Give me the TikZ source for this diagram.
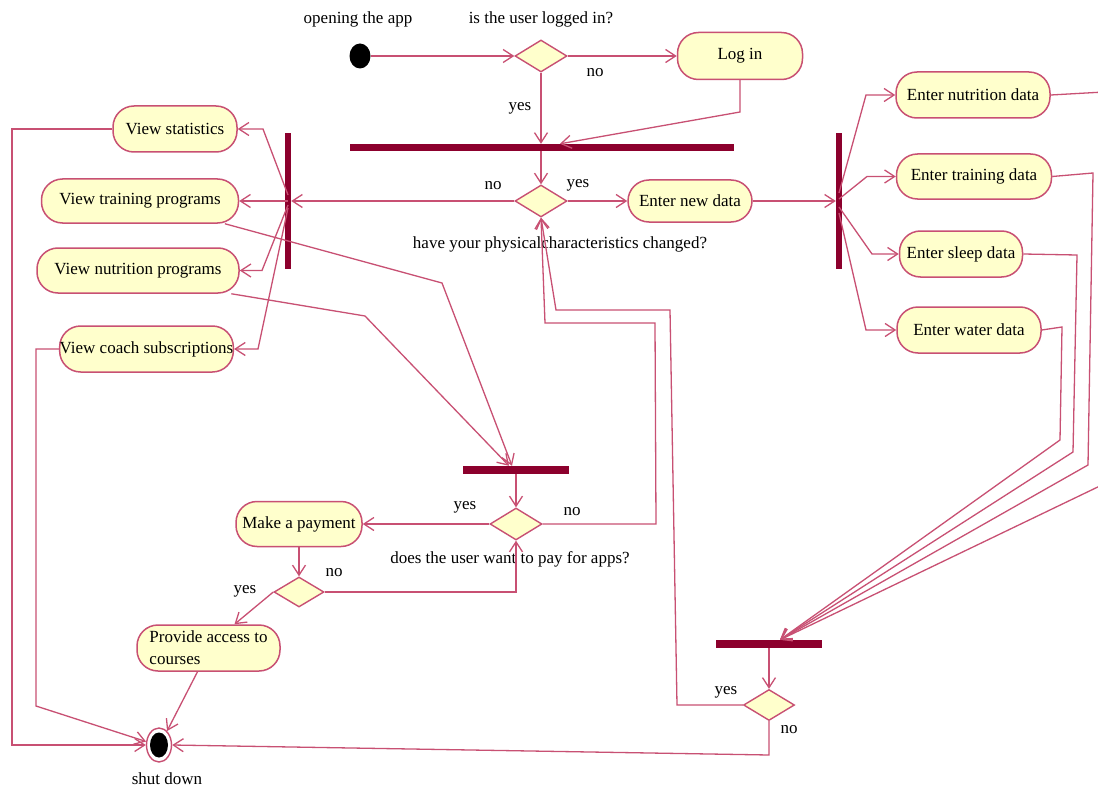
\documentclass[tikz,border=0pt]{standalone}
\usepackage{fontspec}
\setmainfont{Liberation Serif}
\usetikzlibrary{shapes.geometric,arrows.meta,calc}
\definecolor{flowc}{RGB}{200,80,115}
\definecolor{barc}{RGB}{140,0,45}
\definecolor{actfill}{RGB}{255,255,204}

\begin{document}
\begin{tikzpicture}[x=1pt,y=-1pt,
  every node/.style={font=\fontsize{17}{22}\selectfont},
  act/.style={draw=flowc,line width=1.5pt,fill=actfill,rounded corners=21pt,inner sep=0pt,minimum height=46pt},
  dec/.style={diamond,draw=flowc,line width=1.4pt,fill=actfill,inner sep=0pt,minimum width=52pt,minimum height=32pt},
  hbar/.style={fill=barc,inner sep=0pt,minimum height=7pt},
  vbar/.style={fill=barc,inner sep=0pt,minimum width=6pt,minimum height=135pt},
  flow/.style={draw=flowc,line width=1.3pt,-{Straight Barb[length=10pt,width=13pt]}},
  lbl/.style={inner sep=0pt}
]
\useasboundingbox (0,0) rectangle (1098,789);
\fill[white] (0,0) rectangle (1098,789);
\clip (0,0) rectangle (1098,789);

% start and login check
\node[fill=black,ellipse,minimum width=21pt,minimum height=25pt,inner sep=0pt] (start) at (360,56) {};
\node[lbl] at (358,19) {opening the app};
\node[dec] (d1) at (541,56) {};
\node[lbl] at (541,19) {is the user logged in?};
\node[act,minimum width=125pt,minimum height=47pt] (login) at (740,56) {Log in};
\node[hbar,minimum width=384pt] (bar1) at (542,147.5) {};

% physical characteristics check
\node[dec] (d2) at (541,201) {};
\node[act,minimum width=124pt,minimum height=42pt] (newdata) at (690,201) {Enter new data};
\node[lbl] at (560,244) {have your physicalcharacteristics changed?};
\node[vbar] (bar2) at (288,201) {};
\node[vbar] (bar3) at (839,201) {};

% viewing activities
\node[act,minimum width=124pt] (stats) at (175,129) {View statistics};
\node[act,minimum width=197pt,minimum height=44pt] (trainp) at (140,201) {View training programs};
\node[act,minimum width=202pt,minimum height=45pt] (nutrip) at (138,270.5) {View nutrition programs};
\node[act,minimum width=173pt] (coach) at (146.5,349) {View coach subscriptions};

% data entry activities
\node[act,minimum width=154pt] (ennut) at (973,95) {Enter nutrition data};
\node[act,minimum width=155pt,minimum height=45pt] (entrain) at (974,176.5) {Enter training data};
\node[act,minimum width=123pt] (ensleep) at (961,254) {Enter sleep data};
\node[act,minimum width=144pt] (enwater) at (969,330) {Enter water data};

% payment part
\node[hbar,minimum width=106pt,minimum height=8pt] (bar4) at (516,470) {};
\node[dec] (d3) at (516,524) {};
\node[lbl] at (510,559) {does the user want to pay for apps?};
\node[act,minimum width=126pt,minimum height=45pt] (pay) at (299,524) {Make a payment};
\node[dec,minimum width=50pt,minimum height=30pt] (d5) at (299,592) {};
\node[act,minimum width=143pt,minimum height=46pt,align=left] (access) at (208.5,648) {Provide access to\\courses};

% end node
\node[ellipse,draw=flowc,line width=1.4pt,fill=white,minimum width=25pt,minimum height=34pt,inner sep=0pt] (stop) at (159,745) {};
\node[ellipse,fill=black,minimum width=18pt,minimum height=25pt,inner sep=0pt] (stopdot) at (stop) {};
\node[lbl] at (167,779) {shut down};

% join after data entry
\node[hbar,minimum width=106pt,minimum height=8pt] (bar5) at (769,644) {};
\node[dec,minimum width=51pt,minimum height=31pt] (d4) at (769,705) {};

% guard labels
\node[lbl] at (520,108) {yes};
\node[lbl] at (595,73) {no};
\node[lbl] at (493,186) {no};
\node[lbl] at (578,185) {yes};
\node[lbl] at (465,507) {yes};
\node[lbl] at (572,512) {no};
\node[lbl] at (334,573) {no};
\node[lbl] at (245,591) {yes};
\node[lbl] at (726,692) {yes};
\node[lbl] at (789,730) {no};

% connectors: top
\draw[flow] (start.east) -- (d1.west);
\draw[flow] (d1.east) -- (login.west);
\draw[flow] (d1.south) -- (d1.south |- bar1.north);
\draw[flow] (login.south) -- (740,112) -- ($(bar1.north)+(18,0)$);
\draw[flow] (bar1.south -| d2) -- (d2.north);
\draw[flow] (d2.east) -- (newdata.west);
\draw[flow] (newdata.east) -- (newdata.east -| bar3.west);
\draw[flow] (d2.west) -- (d2.west -| bar2.east);

% fork to viewing activities
\draw[flow] ($(bar2.center)+(0,-6)$) -- (263,129) -- (stats.east);
\draw[flow] (bar2.center) -- (bar2.center -| trainp.east);
\draw[flow] ($(bar2.center)+(0,4)$) -- (262,270.5) -- (nutrip.east);
\draw[flow] ($(bar2.center)+(0,7)$) -- (258,349) -- (coach.east);

% fork to data entry
\draw[flow] ($(bar3.center)+(0,-8)$) -- (866,95) -- (ennut.west);
\draw[flow] ($(bar3.center)+(0,-2)$) -- (867,176.5) -- (entrain.west);
\draw[flow] ($(bar3.center)+(0,6)$) -- (872,254) -- (ensleep.west);
\draw[flow] ($(bar3.center)+(0,12)$) -- (866,330) -- (enwater.west);

% viewing activities to the end
\draw[flow] (stats.west) -- (12,129) -- (12,745) -- (stop.west);
\draw[flow] (coach.west) -- (36,349) -- (36,706) -- (stop.165);

% programs to payment join
\draw[flow] (trainp.-15) -- (442,283) -- ($(bar4.north)+(-4,0)$);
\draw[flow] (nutrip.-14) -- (365,316) -- ($(bar4.north)+(-7,0)$);

% payment decisions
\draw[flow] (bar4.south) -- (d3.north);
\draw[flow] (d3.west) -- (pay.east);
\draw[flow] (d3.east) -- (656,524) -- (655,323) -- (545,323) -- (d2.south);
\draw[flow] (pay.south) -- (d5.north);
\draw[flow] (d5.east) -- (516,592) -- (d3.south);
\draw[flow] (d5.west) -- ($(access.north)+(26,0)$);
\draw[flow] ($(access.south)+(-11,0)$) -- (stop.60);

% data entry to join
\draw[flow] (ennut.east) -- (1104,92) -- (1104,484) -- ($(bar5.north)+(11,0)$);
\draw[flow] (entrain.east) -- (1093,173) -- (1088,465) -- ($(bar5.north)+(11,0)$);
\draw[flow] (ensleep.east) -- (1077,255) -- (1073,452) -- ($(bar5.north)+(11,0)$);
\draw[flow] (enwater.east) -- (1062,327) -- (1060,440) -- ($(bar5.north)+(11,0)$);

% final decision
\draw[flow] (bar5.south) -- (d4.north);
\draw[flow] (d4.west) -- (677,705) -- (670,310) -- (556,310) -- (d2.south);
\draw[flow] (d4.south) -- (769,755) -- (stop.east);
\end{tikzpicture}
\end{document}
